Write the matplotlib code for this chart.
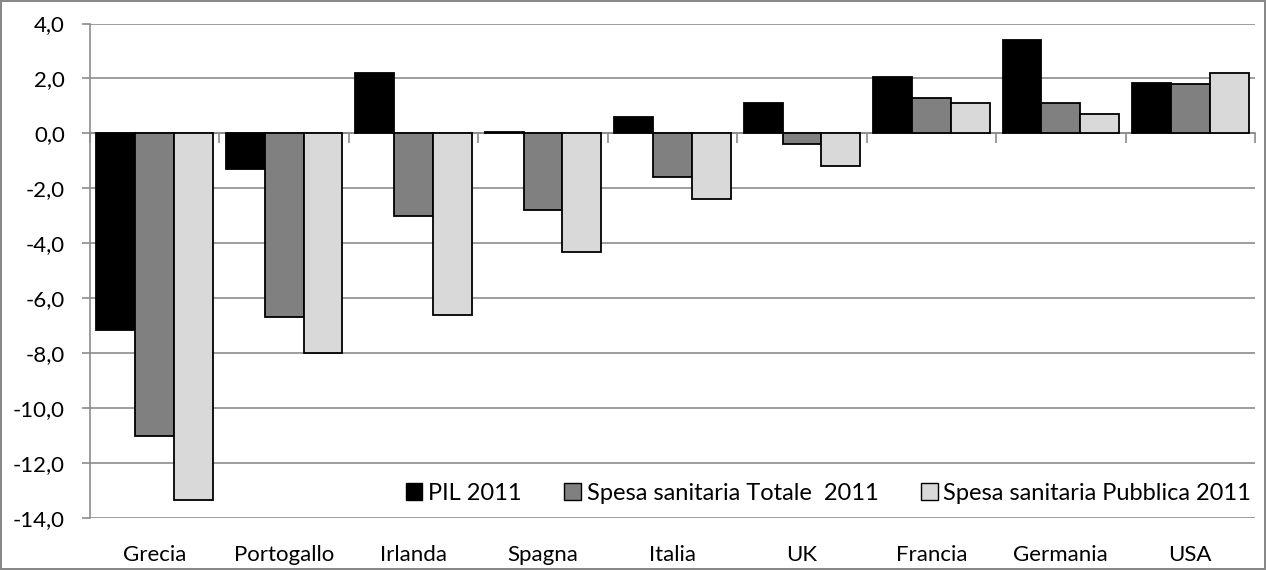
import matplotlib.pyplot as plt
import numpy as np
from matplotlib.ticker import FuncFormatter, FixedLocator
from matplotlib.patches import Patch

plt.rcParams['font.family'] = ['Lato', 'DejaVu Sans']

paesi = ["Grecia", "Portogallo", "Irlanda", "Spagna", "Italia", "UK", "Francia", "Germania", "USA"]
pil = [-7.15, -1.3, 2.2, 0.05, 0.6, 1.1, 2.05, 3.4, 1.85]
spesa_totale = [-11.0, -6.7, -3.0, -2.8, -1.6, -0.4, 1.3, 1.1, 1.8]
spesa_pubblica = [-13.35, -8.0, -6.6, -4.3, -2.4, -1.2, 1.1, 0.7, 2.2]

serie = [
    ("PIL 2011", pil, "#000000"),
    ("Spesa sanitaria Totale  2011", spesa_totale, "#808080"),
    ("Spesa sanitaria Pubblica 2011", spesa_pubblica, "#d9d9d9"),
]

fig = plt.figure(figsize=(12.66, 5.7), dpi=100)
fig.patch.set_edgecolor("#888888")
fig.patch.set_linewidth(1.5)
ax = fig.add_axes([90 / 1266, 1 - 518 / 570, (1255 - 90) / 1266, (518 - 23.5) / 570])

x = np.arange(len(paesi))
w = 0.3
for k, (nome, vals, col) in enumerate(serie):
    ax.bar(x + (k - 1) * w, vals, width=w, color=col, edgecolor="black", linewidth=1.3, zorder=3)

ax.set_xlim(-0.5, len(paesi) - 0.5)
ax.set_ylim(-14, 4)
ax.set_yticks(np.arange(-14, 4.1, 2))
ax.yaxis.set_major_formatter(FuncFormatter(lambda v, p: f"{v:.1f}".replace(".", ",")))
ax.yaxis.grid(True, color="#8c8c8c", linewidth=1.2, zorder=0)
ax.tick_params(axis="y", length=6, width=1.2, color="#8c8c8c", labelsize=16, pad=12)

for s in ["top", "right"]:
    ax.spines[s].set_visible(False)
ax.spines["left"].set_color("#8c8c8c")
ax.spines["left"].set_linewidth(1.2)
ax.spines["bottom"].set_position(("data", 0))
ax.spines["bottom"].set_color("#8c8c8c")
ax.spines["bottom"].set_linewidth(1.2)
ax.xaxis.set_major_locator(FixedLocator(np.arange(-0.5, len(paesi), 1)))
ax.tick_params(axis="x", length=7, width=1.2, color="#8c8c8c", labelbottom=False)

for i, nome in enumerate(paesi):
    ax.text(i, -0.055, nome, transform=ax.get_xaxis_transform(), ha="center", va="top", fontsize=16)

handles = [Patch(facecolor=c, edgecolor="black", linewidth=1) for _, _, c in serie]
ax.legend(handles, [n for n, _, _ in serie], ncol=3, loc="lower right", bbox_to_anchor=(1.009, 0.0),
          frameon=False, fontsize=17, handlelength=0.7, handleheight=0.7, handletextpad=0.25,
          columnspacing=1.8, borderaxespad=0.2)

fig.savefig("out.png", dpi=100, edgecolor=fig.get_edgecolor())
